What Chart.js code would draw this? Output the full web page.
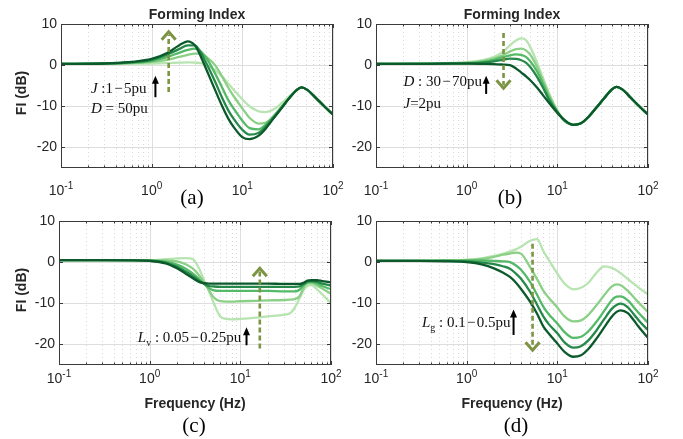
<!DOCTYPE html>
<html>
<head>
<meta charset="utf-8">
<script src="https://cdn.jsdelivr.net/npm/chart.js@4.4.1/dist/chart.umd.min.js"></script>
<style>
  html, body { margin: 0; padding: 0; background: #fff; }
  #wrap { position: relative; width: 683px; height: 439px; }
  #wrap canvas { position: absolute; left: 0; top: 0; }
</style>
</head>
<body>
<div id="wrap">
  <canvas id="panelA" width="683" height="439"></canvas>
  <canvas id="panelB" width="683" height="439"></canvas>
  <canvas id="panelC" width="683" height="439"></canvas>
  <canvas id="panelD" width="683" height="439"></canvas>
</div>
<script>
// ---- axis ticks ----
const xDecades = [0.1, 1, 10, 100];
const xMinorSteps = [2, 3, 4, 5, 6, 7, 8, 9];
const yTicks = [-20, -10, 0, 10];

// ---- (a) J : 1-5 pu, D = 50 pu ----
const freqA = [0.1, 0.3, 0.6, 1, 1.5, 2, 2.5, 3, 3.5, 4, 5, 6, 7, 8, 10, 12, 15, 18, 22, 27, 33, 40, 45, 52, 65, 80, 100];
const fiA_J1 = [0.3, 0.3, 0.35, 0.4, 0.5, 0.6, 0.65, 0.6, 0.5, 0.1, -1.2, -2.8, -4.5, -6, -8.3, -10, -11.2, -11.4, -10.8, -9.3, -7.6, -5.9, -5.4, -6, -8, -10, -12];
const fiA_J2 = [0.3, 0.35, 0.5, 0.8, 1.3, 2.0, 2.5, 2.8, 2.8, 2.0, 0, -2.8, -5.5, -7.5, -10.5, -12.8, -14.2, -14, -12.5, -10.2, -7.9, -6, -5.4, -6, -8, -10, -12];
const fiA_J3 = [0.3, 0.4, 0.6, 1.0, 2.0, 3.0, 3.7, 4.0, 3.3, 1.8, -2, -5.5, -8.5, -10.5, -13.5, -15.3, -15.6, -14.5, -12.5, -10.2, -7.9, -6, -5.4, -6, -8, -10, -12];
const fiA_J4 = [0.3, 0.4, 0.7, 1.3, 2.6, 3.9, 4.8, 4.8, 3.0, 0.5, -4, -8, -11, -13, -15.7, -16.9, -16.5, -15, -12.8, -10.4, -8, -6, -5.4, -6, -8, -10, -12];
const fiA_J5 = [0.3, 0.4, 0.8, 1.5, 3, 4.8, 5.8, 4.8, 2, -1, -6, -10, -13, -15, -17.5, -18, -17.2, -15.5, -13, -10.5, -8, -6, -5.4, -6, -8, -10, -12];

// ---- (b) D : 30-70 pu, J = 2 pu ----
const freqB = [0.1, 0.3, 0.6, 1, 1.5, 2, 2.5, 3, 3.5, 4, 4.5, 5, 6, 7, 8, 10, 12, 15, 18, 22, 27, 33, 40, 45, 52, 65, 80, 100];
const fiB_D30 = [0.3, 0.35, 0.5, 0.7, 1.2, 2.0, 3.2, 4.8, 6.0, 6.5, 6.1, 4.5, 0.5, -3.3, -6.5, -11.0, -13.5, -14.5, -14.2, -12.6, -10.3, -8, -5.9, -5.3, -5.9, -8, -10, -12];
const fiB_D40 = [0.3, 0.35, 0.45, 0.6, 1.0, 1.6, 2.4, 3.3, 3.9, 4.0, 3.6, 2.6, -0.5, -4.0, -7.0, -11.2, -13.5, -14.5, -14.2, -12.6, -10.3, -8, -5.9, -5.3, -5.9, -8, -10, -12];
const fiB_D50 = [0.3, 0.35, 0.4, 0.5, 0.8, 1.3, 1.9, 2.4, 2.6, 2.5, 2.0, 1.0, -1.6, -4.7, -7.6, -11.3, -13.5, -14.5, -14.2, -12.6, -10.3, -8, -5.9, -5.3, -5.9, -8, -10, -12];
const fiB_D60 = [0.3, 0.3, 0.4, 0.45, 0.6, 0.9, 1.3, 1.6, 1.5, 1.2, 0.6, -0.4, -2.9, -5.6, -8.2, -11.4, -13.5, -14.5, -14.2, -12.6, -10.3, -8, -5.9, -5.3, -5.9, -8, -10, -12];
const fiB_D70 = [0.3, 0.3, 0.35, 0.35, 0.3, 0.25, 0.15, 0, -0.8, -1.8, -2.7, -3.6, -5.5, -7.4, -9.0, -11.6, -13.3, -14.5, -14.2, -12.6, -10.3, -8, -5.9, -5.3, -5.9, -8, -10, -12];

// ---- (c) Lv : 0.05-0.25 pu ----
const freqC = [0.1, 0.3, 0.6, 1, 1.5, 2, 2.5, 3, 3.5, 4, 4.5, 5, 6, 7, 8, 10, 15, 20, 30, 35, 40, 45, 50, 55, 60, 70, 80, 100];
const fiC_L005 = [0.5, 0.5, 0.5, 0.5, 0.7, 0.9, 1.0, 0.7, -1.5, -4.5, -7, -9.5, -13.2, -13.8, -13.9, -13.8, -13.5, -13.2, -12.8, -12.5, -11, -8.8, -6.8, -5.8, -5.6, -6.6, -7.8, -10];
const fiC_L010 = [0.5, 0.5, 0.5, 0.45, 0.4, 0.2, -0.5, -1.6, -3.2, -5, -6.8, -8.4, -9.5, -9.6, -9.6, -9.5, -9.4, -9.3, -9.2, -9.1, -9.0, -8.3, -6.2, -5.2, -5.1, -5.7, -6.4, -7.7];
const fiC_L015 = [0.5, 0.5, 0.5, 0.4, 0.1, -0.6, -1.6, -2.8, -4.1, -5.3, -6.3, -6.8, -7.0, -7.0, -7.0, -7.0, -7.0, -7.0, -7.1, -7.1, -7.1, -6.7, -5.6, -4.9, -4.8, -5.2, -5.8, -6.6];
const fiC_L020 = [0.5, 0.5, 0.5, 0.35, -0.1, -1.1, -2.3, -3.4, -4.5, -5.3, -5.8, -5.9, -6.0, -6.0, -6.0, -6.0, -6.0, -6.0, -6.0, -6.0, -6.0, -5.9, -5.3, -4.7, -4.6, -4.8, -5.2, -5.7];
const fiC_L025 = [0.5, 0.5, 0.45, 0.3, -0.3, -1.5, -2.8, -3.9, -4.8, -5.1, -5.2, -5.2, -5.2, -5.2, -5.2, -5.2, -5.2, -5.2, -5.3, -5.3, -5.3, -5.3, -5.0, -4.5, -4.4, -4.4, -4.6, -4.9];

// ---- (d) Lg : 0.1-0.5 pu ----
const freqD = [0.1, 0.3, 0.6, 1, 1.5, 2, 2.5, 3, 3.5, 4, 5, 6, 7, 8, 10, 12, 15, 18, 22, 27, 33, 40, 45, 50, 60, 70, 80, 100];
const fiD_L01 = [0.3, 0.3, 0.4, 0.6, 1.0, 1.5, 2.0, 2.6, 3.1, 3.8, 5.2, 5.6, 2.7, 0.6, -2.8, -5.2, -6.6, -6.3, -5, -2.6, -1.05, -1.4, -2.0, -2.7, -4.1, -5.3, -6.3, -7.8];
const fiD_L02 = [0.3, 0.3, 0.4, 0.5, 0.8, 1.3, 1.8, 2.1, 2.3, 2.0, -1.2, -4.2, -6.9, -8.6, -11, -13.2, -14.4, -14.2, -12.8, -10.5, -8, -5.9, -5.4, -5.6, -7, -8.6, -10, -12.1];
const fiD_L03 = [0.3, 0.3, 0.35, 0.4, 0.4, 0.3, 0.2, 0, -0.8, -1.9, -4.8, -8, -10.8, -12.6, -14.9, -17, -18.4, -18.2, -16.8, -14.5, -11.8, -9.2, -8.4, -8.3, -9.3, -11, -12.5, -14.7];
const fiD_L04 = [0.3, 0.3, 0.3, 0.2, -0.1, -0.5, -1.0, -1.6, -2.8, -4.1, -7.2, -10.4, -13.2, -15, -17.3, -19.5, -20.8, -20.5, -19, -16.6, -13.8, -11.3, -10.4, -10.1, -11, -12.7, -14.3, -16.5];
const fiD_L05 = [0.3, 0.3, 0.2, 0, -0.6, -1.5, -2.5, -3.6, -5, -6.6, -9.6, -12.6, -15.6, -17.3, -19.8, -21.8, -23, -22.7, -21.1, -18.6, -15.8, -13.2, -12.1, -11.7, -12.4, -14.2, -15.9, -18.4];

// light -> dark
const greens = ['#b7e4b0', '#8bd086', '#55ba68', '#25894a', '#0c5a2c'];
const olive = '#7d9444';
const ink = '#262626';
const SANS = '"Liberation Sans", Arial, sans-serif';
const SERIF = '"Liberation Serif", "Times New Roman", serif';
const MINUS = '\u200A\u2212\u200A';

// panel layout + decorations (arrows / notes in data coordinates)
const panels = {
  panelA: {
    area: { left: 61, top: 24, right: 333, bottom: 168 },
    freq: freqA, series: [fiA_J1, fiA_J2, fiA_J3, fiA_J4, fiA_J5],
    title: 'Forming Index', ylabel: true, xlabel: false,
    tag: '(a)', tagX: 192, tagY: 204, tickY: 194.5,
    notes: [
      { f: 0.214, db: -6.7, parts: [['J', 'i'], [' :1' + MINUS + '5pu', 'n']] },
      { f: 0.214, db: -11.6, parts: [['D', 'i'], [' = 50pu', 'n']] }
    ],
    solid: { f: 1.1, from: -7.8, to: -2.6 },
    dashed: { f: 1.54, from: -6.5, to: 8.1 }
  },
  panelB: {
    area: { left: 376, top: 24, right: 648, bottom: 168 },
    freq: freqB, series: [fiB_D30, fiB_D40, fiB_D50, fiB_D60, fiB_D70],
    title: 'Forming Index', ylabel: false, xlabel: false,
    tag: '(b)', tagX: 510, tagY: 204, tickY: 194.5,
    notes: [
      { f: 0.201, db: -5.1, parts: [['D', 'i'], [' : 30' + MINUS + '70pu', 'n']] },
      { f: 0.201, db: -10.4, parts: [['J', 'i'], ['=2pu', 'n']] }
    ],
    solid: { f: 1.64, from: -7.0, to: -2.6 },
    dashed: { f: 2.55, from: 7.8, to: -5.6 }
  },
  panelC: {
    area: { left: 59, top: 221, right: 331, bottom: 365 },
    freq: freqC, series: [fiC_L005, fiC_L010, fiC_L015, fiC_L020, fiC_L025],
    title: '', ylabel: true, xlabel: true,
    tag: '(c)', tagX: 194, tagY: 432, tickY: 382.5,
    notes: [
      { f: 0.74, db: -19.4, parts: [['L', 'i'], ['v', 's'], [' : 0.05' + MINUS + '0.25pu', 'n']] }
    ],
    solid: { f: 11.7, from: -20.2, to: -15.8 },
    dashed: { f: 16.4, from: -21, to: -1.5 }
  },
  panelD: {
    area: { left: 376, top: 221, right: 648, bottom: 365 },
    freq: freqD, series: [fiD_L01, fiD_L02, fiD_L03, fiD_L04, fiD_L05],
    title: '', ylabel: false, xlabel: true,
    tag: '(d)', tagX: 516, tagY: 432, tickY: 382.5,
    notes: [
      { f: 0.321, db: -15.7, parts: [['L', 'i'], ['g', 's'], [' : 0.1' + MINUS + '0.5pu', 'n']] }
    ],
    solid: { f: 3.29, from: -17.7, to: -11.5 },
    dashed: { f: 5.33, from: 4.5, to: -21.4 }
  }
};

function isDecade(v) {
  const l = Math.log10(v);
  return Math.abs(l - Math.round(l)) < 1e-9;
}

function allXTicks() {
  const vals = [];
  xDecades.forEach((d, i) => {
    vals.push(d);
    if (i < xDecades.length - 1) xMinorSteps.forEach(m => vals.push(m * d));
  });
  return vals;
}

function seg(ctx, x1, y1, x2, y2) {
  ctx.beginPath();
  ctx.moveTo(x1, y1);
  ctx.lineTo(x2, y2);
  ctx.stroke();
}

function drawGrid(chart) {
  const { ctx, chartArea: a, scales: { x, y } } = chart;
  ctx.save();
  ctx.lineWidth = 1;
  allXTicks().forEach(v => {
    const px = Math.round(x.getPixelForValue(v)) + 0.5;
    if (isDecade(v)) {
      ctx.strokeStyle = '#dedede';
      ctx.setLineDash([]);
    } else {
      ctx.strokeStyle = '#d8d8d8';
      ctx.setLineDash([1, 3]);
    }
    seg(ctx, px, a.top, px, a.bottom);
  });
  ctx.setLineDash([]);
  ctx.strokeStyle = '#dedede';
  yTicks.forEach(v => {
    const py = Math.round(y.getPixelForValue(v)) + 0.5;
    seg(ctx, a.left, py, a.right, py);
  });
  ctx.restore();
}

function drawFrame(chart) {
  const { ctx, chartArea: a, scales: { x, y } } = chart;
  ctx.save();
  ctx.strokeStyle = '#3a3a3a';
  ctx.lineWidth = 1;
  ctx.strokeRect(a.left + 0.5, a.top + 0.5, a.right - a.left - 1, a.bottom - a.top - 1);
  allXTicks().forEach(v => {
    const px = Math.round(x.getPixelForValue(v)) + 0.5;
    const len = isDecade(v) ? 4 : 2.5;
    seg(ctx, px, a.bottom, px, a.bottom - len);
    seg(ctx, px, a.top, px, a.top + len);
  });
  yTicks.forEach(v => {
    const py = Math.round(y.getPixelForValue(v)) + 0.5;
    seg(ctx, a.left, py, a.left + 4, py);
    seg(ctx, a.right, py, a.right - 4, py);
  });
  ctx.restore();
}

function drawRich(ctx, x, y, parts) {
  let cx = x;
  parts.forEach(([t, style]) => {
    let dy = 0;
    if (style === 'i') ctx.font = 'italic 15px ' + SERIF;
    else if (style === 's') { ctx.font = '10px ' + SERIF; dy = 4; }
    else ctx.font = '15px ' + SERIF;
    ctx.fillText(t, cx, y + dy);
    cx += ctx.measureText(t).width;
  });
}

function drawNotes(chart, p) {
  const { ctx, scales: { x, y } } = chart;
  ctx.save();
  ctx.fillStyle = '#111';
  ctx.textAlign = 'left';
  ctx.textBaseline = 'alphabetic';
  p.notes.forEach(n => drawRich(ctx, x.getPixelForValue(n.f), y.getPixelForValue(n.db), n.parts));

  // black arrow
  const sx = x.getPixelForValue(p.solid.f);
  const sy1 = y.getPixelForValue(p.solid.from);
  const sy2 = y.getPixelForValue(p.solid.to);
  ctx.strokeStyle = '#000';
  ctx.fillStyle = '#000';
  ctx.lineWidth = 2;
  seg(ctx, sx, sy1, sx, sy2 + 6);
  ctx.beginPath();
  ctx.moveTo(sx, sy2);
  ctx.lineTo(sx - 3.5, sy2 + 8);
  ctx.lineTo(sx + 3.5, sy2 + 8);
  ctx.closePath();
  ctx.fill();

  // dashed olive arrow
  const dx = x.getPixelForValue(p.dashed.f);
  const dy1 = y.getPixelForValue(p.dashed.from);
  const dy2 = y.getPixelForValue(p.dashed.to);
  const dir = dy2 < dy1 ? 1 : -1;
  ctx.strokeStyle = olive;
  ctx.lineWidth = 2.6;
  ctx.setLineDash([5, 3]);
  seg(ctx, dx, dy1, dx, dy2 + dir * 3);
  ctx.setLineDash([]);
  ctx.lineWidth = 3;
  ctx.beginPath();
  ctx.moveTo(dx - 7, dy2 + dir * 8);
  ctx.lineTo(dx, dy2);
  ctx.lineTo(dx + 7, dy2 + dir * 8);
  ctx.stroke();
  ctx.restore();
}

function drawLabels(chart, p) {
  const { ctx, chartArea: a, scales: { x, y } } = chart;
  ctx.save();
  ctx.fillStyle = ink;
  // y tick labels
  ctx.font = '14px ' + SANS;
  ctx.textAlign = 'right';
  ctx.textBaseline = 'middle';
  yTicks.forEach(v => ctx.fillText(String(v), a.left - 4, y.getPixelForValue(v)));
  // x tick labels 10^k
  ctx.textAlign = 'left';
  ctx.textBaseline = 'alphabetic';
  xDecades.forEach(v => {
    const k = Math.round(Math.log10(v));
    const ex = String(k);
    ctx.font = '14px ' + SANS;
    const w1 = ctx.measureText('10').width;
    ctx.font = '10px ' + SANS;
    const w2 = ctx.measureText(ex).width;
    const x0 = x.getPixelForValue(v) - (w1 + w2) / 2;
    ctx.font = '14px ' + SANS;
    ctx.fillText('10', x0, p.tickY);
    ctx.font = '10px ' + SANS;
    ctx.fillText(ex, x0 + w1, p.tickY - 6);
  });
  const midX = (a.left + a.right) / 2;
  ctx.font = 'bold 14px ' + SANS;
  ctx.textAlign = 'center';
  if (p.title) ctx.fillText(p.title, midX, 18.5);
  if (p.xlabel) ctx.fillText('Frequency (Hz)', midX, 408);
  if (p.ylabel) {
    ctx.save();
    ctx.translate(22, (a.top + a.bottom) / 2 - 3);
    ctx.rotate(-Math.PI / 2);
    ctx.textBaseline = 'middle';
    ctx.fillText('FI (dB)', 0, 0);
    ctx.restore();
  }
  ctx.font = '21px ' + SERIF;
  ctx.fillStyle = '#000';
  ctx.fillText(p.tag, p.tagX, p.tagY);
  ctx.restore();
}

const decorPlugin = {
  id: 'panelDecor',
  beforeDatasetsDraw(chart) { drawGrid(chart); },
  afterDatasetsDraw(chart) {
    const p = panels[chart.canvas.id];
    drawFrame(chart);
    drawNotes(chart, p);
  },
  afterDraw(chart) { drawLabels(chart, panels[chart.canvas.id]); }
};

function makeDatasets(freq, series) {
  return series.map((vals, i) => ({
    data: freq.map((f, k) => ({ x: f, y: vals[k] })),
    borderColor: greens[i],
    borderWidth: 2.3,
    pointRadius: 0,
    cubicInterpolationMode: 'monotone',
    order: series.length - i
  }));
}

Object.keys(panels).forEach(id => {
  const p = panels[id];
  new Chart(document.getElementById(id), {
    type: 'line',
    data: { datasets: makeDatasets(p.freq, p.series) },
    options: {
      responsive: false,
      animation: false,
      devicePixelRatio: 1,
      layout: {
        padding: { left: p.area.left, top: p.area.top, right: 683 - p.area.right, bottom: 439 - p.area.bottom }
      },
      plugins: { legend: { display: false }, tooltip: { enabled: false } },
      scales: {
        x: { type: 'logarithmic', min: 0.1, max: 100, display: false },
        y: { type: 'linear', min: -25, max: 10, display: false }
      }
    },
    plugins: [decorPlugin]
  });
});
</script>
</body>
</html>
